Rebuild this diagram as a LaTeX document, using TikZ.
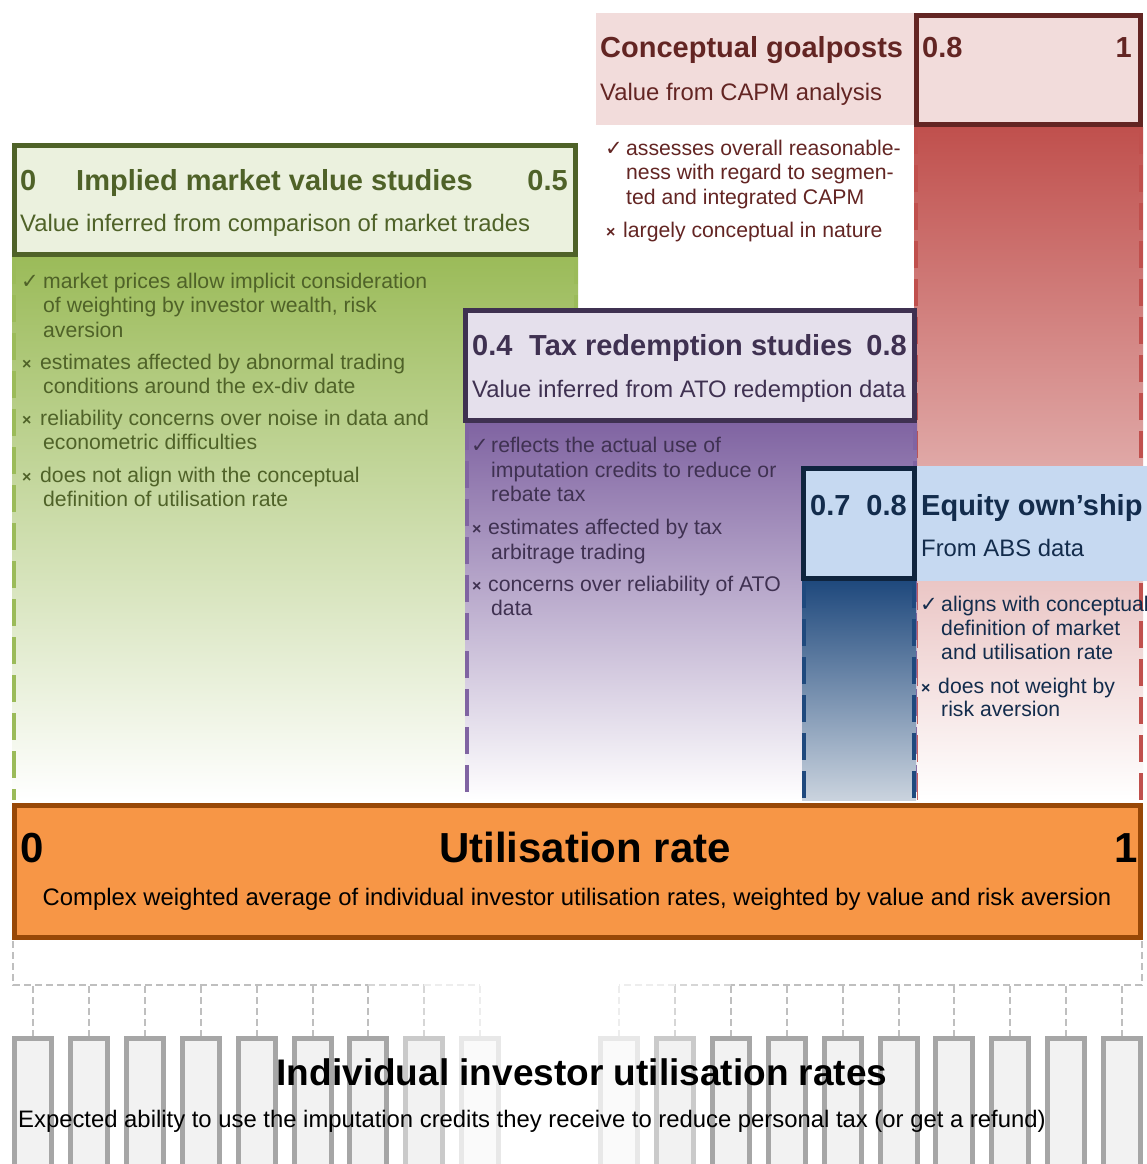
\documentclass[tikz,border=0pt]{standalone}
\usepackage{fontspec}
\setmainfont{Liberation Sans}
\newfontfamily\symfont{DejaVu Sans}
\definecolor{cRedT}{HTML}{632523}
\definecolor{cRed}{HTML}{C0504D}
\definecolor{cRedL}{HTML}{F2DCDB}
\definecolor{cGrnT}{HTML}{4F6228}
\definecolor{cGrn}{HTML}{9BBB59}
\definecolor{cGrnL}{HTML}{EBF1DE}
\definecolor{cPurT}{HTML}{3F3151}
\definecolor{cPur}{HTML}{8064A2}
\definecolor{cPurL}{HTML}{E5E0EC}
\definecolor{cBluT}{HTML}{132C4C}
\definecolor{cBluB}{HTML}{0F243E}
\definecolor{cBlu}{HTML}{1F497D}
\definecolor{cBluL}{HTML}{C6D9F1}
\definecolor{cBluE}{HTML}{CAD3DE}
\definecolor{cOrg}{HTML}{F79646}
\definecolor{cOrgD}{HTML}{984807}
\definecolor{cGry}{HTML}{A6A6A6}
\definecolor{cGryM}{HTML}{CACACA}
\definecolor{cGryF}{HTML}{E8E8E8}
\definecolor{cGryL}{HTML}{F2F2F2}
\definecolor{cGryLL}{HTML}{FAFAFA}
\definecolor{cDash}{HTML}{BFBFBF}
\definecolor{cDashM}{HTML}{D6D6D6}
\definecolor{cDashF}{HTML}{EDEDED}
\newcommand\chk{{\symfont\fontsize{21}{24}\selectfont ✓}}
\newcommand\crs{{\bfseries\fontsize{16}{20}\selectfont ×}}
\tikzset{
  hd/.style={font=\bfseries\fontsize{29}{33}\selectfont, inner sep=0, anchor=base west},
  sub/.style={font=\fontsize{23.85}{27}\selectfont, inner sep=0, anchor=base west},
  bul/.style={font=\fontsize{21.2}{24}\selectfont, inner sep=0, anchor=base west},
  frame/.style={line width=5pt, anchor=north west, inner sep=0, outer sep=0},
  coledge/.style={line width=4pt, dash pattern=on 27pt off 11pt},
  gdash/.style={line width=2pt, dash pattern=on 7pt off 4pt},
  bar/.style={line width=5pt, minimum width=37pt, minimum height=150pt, anchor=north, inner sep=0, outer sep=2.5pt}
}
\begin{document}
\begin{tikzpicture}[x=1pt,y=-1pt]
\useasboundingbox (0,0) rectangle (1147,1164);
\fill[white] (0,0) rectangle (1147,1164);

% ---------- Conceptual goalposts (red) ----------
\shade[top color=cRed, bottom color=white] (914,127) rectangle (1143,800);
\draw[coledge, cRed] (916,127) -- (916,800);
\draw[coledge, cRed] (1141,127) -- (1141,800);
\fill[cRedL] (596,13) rectangle (914,125);
\node[frame, draw=cRedT, fill=cRedL, minimum width=224pt, minimum height=109pt] (cgbox) at (916.5,15.5) {};

% ---------- Implied market value (green) ----------
\shade[top color=cGrn, bottom color=white] (12,257) rectangle (578,800);
\draw[coledge, cGrn] (14,257) -- (14,800);
\draw[coledge, cGrn] (576,257) -- (576,800);
\node[frame, draw=cGrnT, fill=cGrnL, minimum width=561pt, minimum height=109pt] (imbox) at (14.5,145.5) {};

% ---------- Tax redemption (purple) ----------
\shade[top color=cPur, bottom color=white] (465,423) rectangle (917,800);
\draw[coledge, cPur] (467,423) -- (467,800);
\draw[coledge, cPur] (915,423) -- (915,800);
\node[frame, draw=cPurT, fill=cPurL, minimum width=449pt, minimum height=110pt] (trbox) at (465.5,310.5) {};

% ---------- Equity ownership (blue) ----------
\shade[top color=cBlu, bottom color=cBluE] (802,581) rectangle (916,800);
\draw[coledge, cBlu] (804,581) -- (804,800);
\draw[coledge, cBlu] (914,581) -- (914,800);
\fill[cBluL] (917,466) rectangle (1147,581);
\node[frame, draw=cBluB, fill=cBluL, minimum width=111pt, minimum height=110pt] (eqbox) at (803.5,468.5) {};

% ---------- Utilisation rate ----------
\node[frame, draw=cOrgD, fill=cOrg, minimum width=1126pt, minimum height=132pt] (ut) at (14.5,805.5) {};

% ---------- Bracket and investor bars ----------
\coordinate (bl) at (13,985);
\coordinate (br) at (1142,985);
\draw[gdash, cDash] (13,941) -- (bl) -- (368,985);
\draw[gdash, cDashM] (368,985) -- (424,985);
\draw[gdash, cDashF] (424,985) -- (480,985);
\draw[gdash, cDash] (1142,941) -- (br) -- (731,985);
\draw[gdash, cDashM] (731,985) -- (675,985);
\draw[gdash, cDashF] (675,985) -- (619,985);

\foreach \x/\d/\f/\e/\n in {33/cGry/cGryL/cDash/L1, 88.9/cGry/cGryL/cDash/L2, 144.8/cGry/cGryL/cDash/L3, 200.7/cGry/cGryL/cDash/L4, 256.6/cGry/cGryL/cDash/L5, 312.5/cGry/cGryL/cDash/L6, 368.4/cGry/cGryL/cDash/L7, 424.3/cGryM/cGryL/cDashM/L8, 480.2/cGryF/cGryLL/cDashF/L9,
  619/cGryF/cGryLL/cDashF/R1, 674.9/cGryM/cGryL/cDashM/R2, 730.8/cGry/cGryL/cDash/R3, 786.7/cGry/cGryL/cDash/R4, 842.6/cGry/cGryL/cDash/R5, 898.5/cGry/cGryL/cDash/R6, 954.4/cGry/cGryL/cDash/R7, 1010.3/cGry/cGryL/cDash/R8, 1066.2/cGry/cGryL/cDash/R9, 1122.1/cGry/cGryL/cDash/R10}{
  \node[bar, draw=\d, fill=\f] (bar\n) at (\x,1035.5) {};
  \coordinate (hub\n) at (\x,986);
  \draw[gdash, \e] (hub\n) -- (bar\n.north);
}

% ---------- Texts: conceptual ----------
\node[hd, text=cRedT] (cgT) at (600,58) {Conceptual goalposts};
\node[hd, text=cRedT] (cgA) at (922,58) {0.8};
\node[hd, text=cRedT, anchor=base east] (cgB) at (1132,58) {1};
\node[sub, text=cRedT] (cgS) at (600,100) {Value from CAPM analysis};
\node[bul, text=cRedT] (cgm1) at (605,155) {\chk};
\node[bul, text=cRedT] (cgl1) at (626,155) {assesses overall reasonable-};
\node[bul, text=cRedT] (cgl2) at (626,179) {ness with regard to segmen-};
\node[bul, text=cRedT] (cgl3) at (626,204) {ted and integrated CAPM};
\node[bul, text=cRedT] (cgm2) at (606,237) {\crs};
\node[bul, text=cRedT] (cgl4) at (623,237) {largely conceptual in nature};

% ---------- Texts: implied market value ----------
\node[hd, text=cGrnT] (imA) at (20,190) {0};
\node[hd, text=cGrnT] (imT) at (76,190) {Implied market value studies};
\node[hd, text=cGrnT, anchor=base east] (imB) at (568,190) {0.5};
\node[sub, text=cGrnT] (imS) at (20,231) {Value inferred from comparison of market trades};
\node[bul, text=cGrnT] (imm1) at (21,288) {\chk};
\node[bul, text=cGrnT] (iml1) at (43,288) {market prices allow implicit consideration};
\node[bul, text=cGrnT] (iml2) at (43,312) {of weighting by investor wealth, risk};
\node[bul, text=cGrnT] (iml3) at (43,337) {aversion};
\node[bul, text=cGrnT] (imm2) at (22,369) {\crs};
\node[bul, text=cGrnT] (iml4) at (40,369) {estimates affected by abnormal trading};
\node[bul, text=cGrnT] (iml5) at (43,393) {conditions around the ex-div date};
\node[bul, text=cGrnT] (imm3) at (22,425) {\crs};
\node[bul, text=cGrnT] (iml6) at (40,425) {reliability concerns over noise in data and};
\node[bul, text=cGrnT] (iml7) at (43,449) {econometric difficulties};
\node[bul, text=cGrnT] (imm4) at (22,482) {\crs};
\node[bul, text=cGrnT] (iml8) at (40,482) {does not align with the conceptual};
\node[bul, text=cGrnT] (iml9) at (43,506) {definition of utilisation rate};

% ---------- Texts: tax redemption ----------
\node[hd, text=cPurT] (trA) at (472,355) {0.4};
\node[hd, text=cPurT] (trT) at (529,355) {Tax redemption studies};
\node[hd, text=cPurT, anchor=base east] (trB) at (907,355) {0.8};
\node[sub, text=cPurT] (trS) at (472,397) {Value inferred from ATO redemption data};
\node[bul, text=cPurT] (trm1) at (471,452) {\chk};
\node[bul, text=cPurT] (trl1) at (491,452) {reflects the actual use of};
\node[bul, text=cPurT] (trl2) at (491,477) {imputation credits to reduce or};
\node[bul, text=cPurT] (trl3) at (491,501) {rebate tax};
\node[bul, text=cPurT] (trm2) at (472,534) {\crs};
\node[bul, text=cPurT] (trl4) at (488,534) {estimates affected by tax};
\node[bul, text=cPurT] (trl5) at (491,559) {arbitrage trading};
\node[bul, text=cPurT] (trm3) at (472,591) {\crs};
\node[bul, text=cPurT] (trl6) at (488,591) {concerns over reliability of ATO};
\node[bul, text=cPurT] (trl7) at (491,615) {data};

% ---------- Texts: equity ownership ----------
\node[hd, text=cBluT] (eqA) at (810,515) {0.7};
\node[hd, text=cBluT, anchor=base east] (eqB) at (907,515) {0.8};
\node[hd, text=cBluT] (eqT) at (921,515) {Equity own’ship};
\node[sub, text=cBluT] (eqS) at (921,556) {From ABS data};
\node[bul, text=cBluT] (eqm1) at (920,611) {\chk};
\node[bul, text=cBluT] (eql1) at (941,611) {aligns with conceptual};
\node[bul, text=cBluT] (eql2) at (941,635) {definition of market};
\node[bul, text=cBluT] (eql3) at (941,659) {and utilisation rate};
\node[bul, text=cBluT] (eqm2) at (921,693) {\crs};
\node[bul, text=cBluT] (eql4) at (938,693) {does not weight by};
\node[bul, text=cBluT] (eql5) at (941,716) {risk aversion};

% ---------- Texts: utilisation ----------
\node[font=\bfseries\fontsize{42}{48}\selectfont, inner sep=0, anchor=base west] (utA) at (20,862) {0};
\node[font=\bfseries\fontsize{42}{48}\selectfont, inner sep=0, anchor=base] (utT) at (585,862) {Utilisation rate};
\node[font=\bfseries\fontsize{42}{48}\selectfont, inner sep=0, anchor=base east] (utB) at (1138,862) {1};
\node[sub, anchor=base] (utS) at (577,905) {Complex weighted average of individual investor utilisation rates, weighted by value and risk aversion};

% ---------- Texts: individual investors ----------
\node[font=\bfseries\fontsize{37}{42}\selectfont, inner sep=0, anchor=base] (inT) at (582,1085) {Individual investor utilisation rates};
\node[sub] (inS) at (18,1127) {Expected ability to use the imputation credits they receive to reduce personal tax (or get a refund)};
\end{tikzpicture}
\end{document}
